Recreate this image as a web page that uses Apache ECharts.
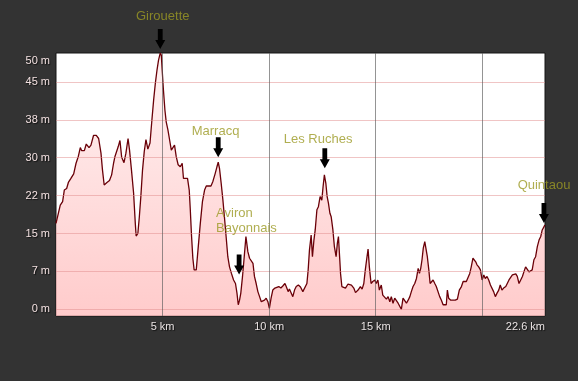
<!DOCTYPE html>
<html><head><meta charset="utf-8">
<script src="https://cdn.jsdelivr.net/npm/echarts@6/dist/echarts.min.js"></script>
<style>html,body{margin:0;padding:0;background:#333333;}#c{width:578px;height:381px;}</style>
</head><body><div id="c"></div>
<script>
// distance along the track (km) and elevation (m)
const distKm = [0.00,0.11,0.20,0.31,0.39,0.50,0.58,0.70,0.83,0.94,1.05,1.14,1.20,1.33,1.42,1.55,1.64,1.76,1.89,2.00,2.11,2.18,2.26,2.39,2.51,2.61,2.70,2.77,2.84,2.92,3.00,3.08,3.19,3.28,3.38,3.45,3.54,3.64,3.72,3.76,3.84,3.91,3.98,4.06,4.14,4.22,4.31,4.41,
4.50,4.58,4.66,4.74,4.81,4.89,4.94,4.98,5.04,5.11,5.17,5.25,5.33,5.41,5.49,5.56,5.64,5.73,5.83,5.92,5.98,6.06,6.17,6.25,6.30,6.36,6.42,6.48,6.58,6.66,6.77,6.87,6.97,7.05,7.15,7.27,7.36,7.47,7.55,7.61,7.67,7.75,7.83,7.90,7.98,8.06,8.14,8.23,8.33,8.42,8.49,8.55,8.61,8.67,8.75,8.83,8.91,8.95,
9.00,9.08,9.16,9.24,9.31,9.39,9.47,9.55,9.63,9.70,9.78,9.86,9.94,10.01,10.09,10.17,10.27,10.36,10.45,10.55,10.64,10.74,10.80,10.89,10.95,11.02,11.11,11.19,11.27,11.37,11.47,11.58,11.67,11.77,11.83,11.89,11.97,12.03,12.10,12.16,12.24,12.31,12.39,12.47,12.53,12.59,12.66,12.72,12.78,12.85,12.91,12.99,13.06,13.14,13.20,13.25,13.31,13.35,13.41,13.48,13.58,
13.61,13.70,13.86,13.97,14.05,14.17,14.28,14.36,14.44,14.51,14.59,14.64,14.70,14.78,14.86,14.96,15.02,15.10,15.17,15.26,15.33,15.42,15.50,15.58,15.66,15.73,15.81,15.89,15.97,16.05,16.13,16.20,16.28,16.36,16.44,16.52,16.60,16.67,16.75,16.83,16.91,16.99,17.05,17.11,17.17,17.23,17.30,17.36,17.42,17.49,17.55,17.61,17.69,17.77,17.84,17.92,
18.00,18.08,18.16,18.24,18.31,18.36,18.42,18.52,18.63,18.73,18.83,18.92,19.02,19.10,19.17,19.25,19.33,19.41,19.48,19.56,19.64,19.69,19.75,19.83,19.91,19.99,20.07,20.14,20.22,20.30,20.38,20.45,20.53,20.61,20.69,20.77,20.84,20.92,21.00,21.10,21.17,21.25,21.33,21.41,21.49,21.57,21.64,21.72,21.80,21.88,21.95,22.03,22.11,22.19,22.27,22.34,22.42,22.50,22.58,22.66,22.74,22.81,22.89,22.93];
const elevM = [17.0,19.0,20.6,21.3,23.6,23.9,25.1,25.9,26.8,28.9,30.3,32.0,31.4,31.4,32.7,32.0,32.5,34.4,34.4,33.8,30.9,27.6,24.6,25.1,25.5,26.6,28.9,30.3,30.3,32.2,33.4,30.1,29.0,30.9,33.8,31.5,27.6,23.0,17.0,14.5,15.0,18.3,22.3,27.6,31.2,33.6,31.7,32.9,
37.5,41.4,44.7,47.4,49.3,50.7,50.3,47.4,43.4,39.4,37.1,35.5,33.5,31.5,31.2,32.5,30.2,28.6,28.2,28.9,25.9,25.6,25.9,23.6,19.7,14.4,10.1,7.8,7.8,11.7,17.0,21.3,23.6,24.4,24.4,24.4,25.3,26.9,28.2,29.1,27.9,24.9,21.6,18.3,14.4,10.4,8.4,7.1,5.8,5.1,3.2,0.9,1.8,3.2,6.5,10.4,14.4,14.7,
11.4,10.1,10.4,9.1,6.5,5.1,3.5,2.5,1.5,1.2,1.8,2.2,1.5,0.2,2.2,3.8,4.2,4.2,4.5,4.2,4.6,5.1,4.5,3.5,4.0,3.8,2.5,3.8,4.5,4.8,4.4,3.5,3.8,5.1,7.8,11.7,14.7,10.4,13.7,15.7,19.7,20.3,22.3,21.6,24.3,26.6,24.9,22.3,21.0,19.0,18.3,15.7,12.4,10.4,13.1,14.4,10.0,7.0,4.5,4.2,4.2,
4.5,5.0,4.8,4.2,3.3,3.8,4.5,4.0,5.1,7.8,10.4,11.9,8.4,5.1,5.5,5.8,5.1,5.8,3.8,4.8,2.8,2.5,2.0,2.5,1.5,2.5,1.2,2.2,2.5,1.2,0.9,0.0,2.2,2.5,1.2,1.8,2.5,3.5,4.5,5.1,6.1,8.1,7.1,8.1,9.8,12.1,13.4,13.1,10.4,7.8,5.1,4.8,5.8,5.1,4.5,4.8,
2.5,1.8,0.9,1.2,0.9,3.8,2.2,1.8,1.8,1.8,2.0,3.8,4.5,5.5,5.8,5.5,5.8,7.1,8.4,10.1,10.4,9.4,8.8,8.4,7.8,5.8,6.8,6.1,6.5,5.8,4.8,4.5,3.5,2.5,3.2,3.8,4.8,3.8,4.2,4.5,5.1,5.8,6.1,6.8,6.5,7.0,6.5,5.1,5.8,6.5,7.4,8.4,8.1,7.4,7.1,7.8,9.8,10.4,12.4,13.7,14.4,15.7,16.3,16.7];

const xMin = 0, xMax = 22.94, yMin = -1.33, yMax = 50.72;
const xGridValues = [5, 10, 15, 20];
const xLabelValues = [5, 10, 15, 22.94];
const xLabelTexts = ['5 km', '10 km', '15 km', '22.6 km'];
const yGridValues = [0, 7.5, 15, 22.5, 30, 37.5, 45];
const yLabelValues = [0, 7.5, 15, 22.5, 30, 37.5, 45, 50];
const yLabelTexts = ['0 m', '7 m', '15 m', '22 m', '30 m', '38 m', '45 m', '50 m'];

// waypoints
const wpNames = ['Girouette', 'Marracq', 'Aviron\nBayonnais', 'Les Ruches', 'Quintaou'];
const wpKm = [4.89, 7.61, 8.59, 12.61, 22.89];
const wpElev = [50.7, 29.3, 6.1, 27.1, 16.3];

// label layout (pixels, relative to waypoint) — presentation only
const wpLabelLayout = [
  { offset: [2.5, -36.6], align: 'center' },
  { offset: [-2.7, -30.3], align: 'center' },
  { offset: [-23, -57.8], align: 'left' },
  { offset: [-6.7, -32.8], align: 'center' },
  { offset: [-26.3, -41.2], align: 'left' }
];

const FONT = '"Liberation Sans", Arial, sans-serif';
const lineData = distKm.map((d, i) => [d, elevM[i]]);
const arrowPath = 'path://M2.6,0 L7.4,0 L7.4,11 L10,11 L5,20 L0,11 L2.6,11 Z';

const chart = echarts.init(document.getElementById('c'), null, { renderer: 'canvas' });
chart.setOption({
  animation: false,
  backgroundColor: '#333333',
  grid: {
    left: 56, right: 33, top: 53, bottom: 65,
    show: true, backgroundColor: '#ffffff', borderColor: '#151515', borderWidth: 1
  },
  xAxis: {
    type: 'value', min: xMin, max: xMax, z: 3,
    axisLine: { show: false },
    axisTick: { show: false, customValues: xGridValues },
    splitLine: { show: true, lineStyle: { color: 'rgba(90,90,90,0.65)', width: 1 } },
    axisLabel: {
      customValues: xLabelValues,
      margin: 5, fontSize: 11, fontFamily: FONT, color: '#e8e2e2',
      alignMaxLabel: 'right',
      textShadowColor: 'rgba(0,0,0,0.7)', textShadowOffsetX: 1, textShadowOffsetY: 1, textShadowBlur: 1,
      formatter: v => { const i = xLabelValues.findIndex(x => Math.abs(x - v) < 1e-6); return i >= 0 ? xLabelTexts[i] : ''; }
    }
  },
  yAxis: {
    type: 'value', min: yMin, max: yMax, z: 3,
    axisLine: { show: false },
    axisTick: { show: false, customValues: yGridValues },
    splitLine: { show: true, lineStyle: { color: 'rgba(225,140,140,0.5)', width: 1 } },
    axisLabel: {
      customValues: yLabelValues,
      margin: 6, fontSize: 11, fontFamily: FONT, color: '#f3e1e1',
      textShadowColor: 'rgba(0,0,0,0.7)', textShadowOffsetX: 1, textShadowOffsetY: 1, textShadowBlur: 1,
      rich: { t: { fontSize: 11, fontFamily: FONT, color: '#f3e1e1', padding: [9, 0, 0, 0] } },
      formatter: v => {
        const i = yLabelValues.findIndex(x => Math.abs(x - v) < 1e-6);
        if (i < 0) return '';
        return i === yLabelValues.length - 1 ? '{t|' + yLabelTexts[i] + '}' : yLabelTexts[i];
      }
    }
  },
  series: [
    {
      type: 'line', data: lineData, showSymbol: false, silent: true, z: 2,
      lineStyle: { color: '#6a0008', width: 1.3 },
      areaStyle: {
        origin: 'start',
        color: { type: 'linear', x: 0, y: 0, x2: 0, y2: 1,
          colorStops: [{ offset: 0, color: '#ffeeee' }, { offset: 1, color: '#ffb5b5' }] }
      },
      markPoint: {
        silent: true,
        symbol: arrowPath, symbolSize: [10, 20], symbolOffset: [0, -14],
        itemStyle: { color: '#000000' },
        label: { show: false },
        data: wpKm.map((k, i) => ({ coord: [k, wpElev[i]] }))
      }
    },
    {
      type: 'scatter', silent: true, z: 5,
      symbolSize: 1, itemStyle: { color: 'rgba(0,0,0,0)' },
      data: wpKm.map((k, i) => ({
        value: [k, wpElev[i]],
        label: {
          show: true, position: 'inside', formatter: wpNames[i],
          offset: wpLabelLayout[i].offset, align: wpLabelLayout[i].align,
          verticalAlign: 'middle',
          color: '#9c9a24', fontSize: 13, fontFamily: FONT, lineHeight: 15
        }
      }))
    }
  ]
});
</script></body></html>
